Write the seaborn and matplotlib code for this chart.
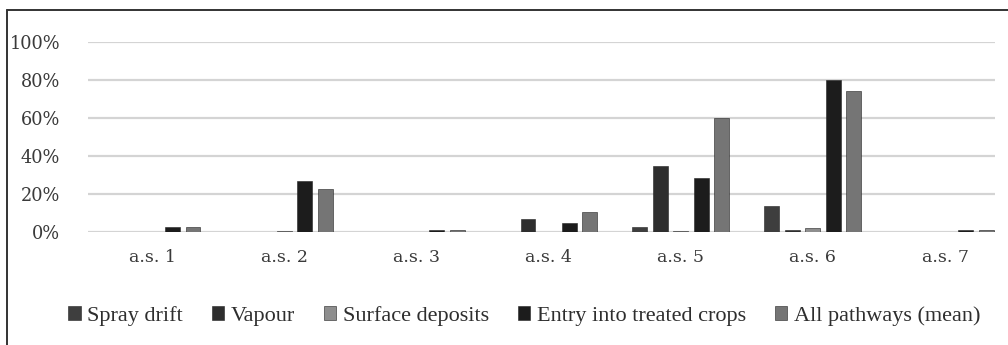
import matplotlib
matplotlib.use("Agg")
import matplotlib.pyplot as plt
import seaborn as sns
import pandas as pd
from matplotlib.lines import Line2D
from matplotlib.patches import Patch

categories = ["a.s. 1", "a.s. 2", "a.s. 3", "a.s. 4", "a.s. 5", "a.s. 6", "a.s. 7"]
series_names = ["Spray drift", "Vapour", "Surface deposits",
                "Entry into treated crops", "All pathways (mean)"]
spray_drift = [0, 0, 0, 0, 2.8, 13.7, 0]
vapour = [0, 0, 0, 6.8, 34.7, 1.0, 0]
surface_deposits = [0, 0.5, 0, 0, 0.5, 2.0, 0]
entry_crops = [2.4, 26.8, 1.0, 4.6, 28.6, 80.0, 1.0]
all_pathways = [2.4, 22.6, 1.0, 10.5, 60.2, 74.2, 1.0]
y_ticks = [0, 20, 40, 60, 80, 100]

colors = ["#3e3e3e", "#2e2e2e", "#8e8e8e", "#1c1c1c", "#757575"]

sns.set_theme(style="white")
plt.rcParams['font.family'] = ['DejaVu Serif']

rows = []
for name, vals in zip(series_names, [spray_drift, vapour, surface_deposits, entry_crops, all_pathways]):
    for c, v in zip(categories, vals):
        rows.append({"cat": c, "series": name, "value": v})
df = pd.DataFrame(rows)

fig = plt.figure(figsize=(10.08, 3.45), dpi=100)
ax = fig.add_axes([88/1008, (345-232)/345, (995-88)/1008, 190/345])

sns.barplot(data=df, x="cat", y="value", hue="series", order=categories,
            hue_order=series_names, palette=colors, width=0.776, gap=0.27,
            ax=ax, legend=False, edgecolor="#222222", linewidth=0.4, zorder=3)

ax.set_ylim(0, 100)
ax.set_xlim(-0.484, 6.378)
ax.set_yticks(y_ticks)
ax.set_yticklabels([f"{v}%" for v in y_ticks])
ax.yaxis.grid(True, color="#d4d4d4", linewidth=1.6, zorder=0)
ax.set_axisbelow(True)
for s in ax.spines.values():
    s.set_visible(False)
ax.tick_params(axis="both", length=0, colors="#3a3a3a")
ax.tick_params(axis="y", pad=20, labelsize=12.8)
ax.tick_params(axis="x", pad=12, labelsize=12.5)
ax.set_xlabel("")
ax.set_ylabel("")

handles = [Patch(facecolor=c, edgecolor="#222222", linewidth=0.4) for c in colors]
leg = fig.legend(handles, series_names, loc="center", bbox_to_anchor=(0.52, (345-316)/345),
                 ncol=5, frameon=False, handlelength=0.55, handleheight=0.55,
                 handletextpad=0.3, columnspacing=1.3,
                 prop={"family": "Liberation Serif", "size": 16})
for t in leg.get_texts():
    t.set_color("#2e2e2e")

# outer frame (cropped: only top and left visible)
fig.add_artist(Line2D([7/1008, 1.0], [1 - 10/345, 1 - 10/345], transform=fig.transFigure,
                      color="#333333", linewidth=1.4))
fig.add_artist(Line2D([7/1008, 7/1008], [0, 1 - 10/345], transform=fig.transFigure,
                      color="#333333", linewidth=1.4))

fig.savefig("out.png", dpi=100, facecolor="white")
